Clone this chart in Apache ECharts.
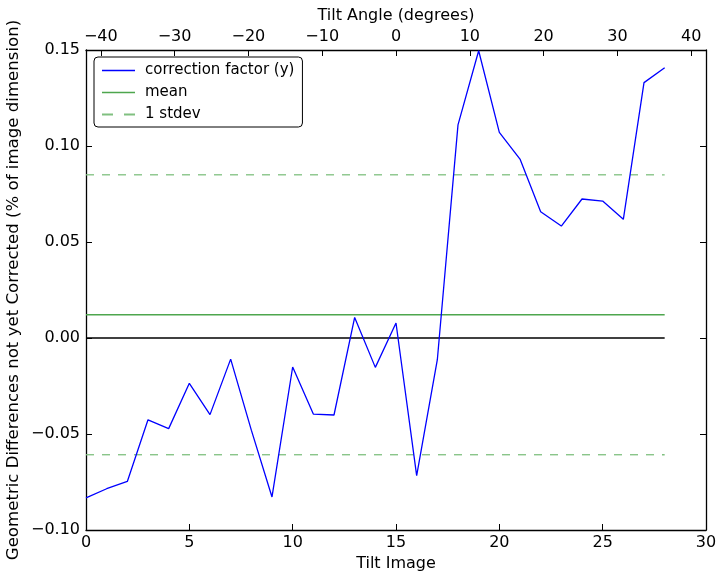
<!DOCTYPE html>
<html>
<head>
<meta charset="utf-8">
<script src="https://cdn.jsdelivr.net/npm/echarts@6/dist/echarts.min.js"></script>
<style>
html,body{margin:0;padding:0;background:#fff;}
#chart{width:725px;height:579px;}
</style>
</head>
<body>
<div id="chart"></div>
<script>
const tiltImages = [0,1,2,3,4,5,6,7,8,9,10,11,12,13,14,15,16,17,18,19,20,21,22,23,24,25,26,27,28];
const correction = [-0.0833,-0.0785,-0.0747,-0.0426,-0.0472,-0.0236,-0.0399,-0.0110,-0.0480,-0.0828,
  -0.0151,-0.0396,-0.0401,0.0107,-0.0153,0.0078,-0.0717,-0.0113,0.1110,0.1496,
  0.1071,0.0932,0.0658,0.0583,0.0724,0.0713,0.0618,0.1330,0.1408];
const meanValue = 0.0121;
const stdevValue = 0.0729;
const bottomTicks = [0,5,10,15,20,25,30];
const topTicks = [-40,-30,-20,-10,0,10,20,30,40];
const yTicks = [-0.10,-0.05,0.00,0.05,0.10,0.15];

const FONT = 'DejaVu Sans';
const FS = 16;
const LFS = 15;
const fmtY = v => v.toFixed(2).replace('-', '\u2212');
const fmtT = v => String(v).replace('-', '\u2212');

const xFirst = tiltImages[0], xLast = tiltImages[tiltImages.length-1];
const lineData = tiltImages.map((x,i)=>[x, correction[i]]);
const flat = v => [[xFirst, v],[xLast, v]];

const chart = echarts.init(document.getElementById('chart'), null, {renderer:'canvas'});
chart.setOption({
  animation:false,
  backgroundColor:'#fff',
  textStyle:{fontFamily:FONT},
  grid:{left:86, right:19, top:50, bottom:49, containLabel:false, outerBoundsMode:'none'},
  legend:{
    show:true,
    left:94, top:57,
    orient:'vertical',
    padding:[6,8,5,8],
    itemGap:7,
    itemWidth:33, itemHeight:15,
    backgroundColor:'#fff',
    borderColor:'#000', borderWidth:1, borderRadius:4,
    textStyle:{fontFamily:FONT, fontSize:LFS, color:'#000', padding:[0,0,0,5]},
    data:[
      {name:'correction factor (y)', icon:'path://M0,0L33,0L33,1.3L0,1.3Z', itemStyle:{color:'#0000ff'}},
      {name:'mean', icon:'path://M0,0L33,0L33,1.3L0,1.3Z', itemStyle:{color:'#4ea64e'}},
      {name:'1 stdev', icon:'path://M0,0L8,0L8,1.3L0,1.3Z M16,0L24,0L24,1.3L16,1.3Z', itemStyle:{color:'#80c080'}}
    ]
  },
  xAxis:[
    {type:'value', position:'bottom', min:0, max:30, interval:5,
     axisLine:{show:true, onZero:false, lineStyle:{color:'#000', width:1.3}},
     axisTick:{show:true, inside:true, length:6, lineStyle:{color:'#000'}},
     axisLabel:{show:true, fontFamily:FONT, fontSize:FS, color:'#000', margin:5, formatter:fmtT},
     splitLine:{show:false},
     name:'Tilt Image', nameLocation:'middle', nameGap:24,
     nameTextStyle:{fontFamily:FONT, fontSize:FS, color:'#000'}},
    {type:'value', position:'top', min:-42, max:42,
     axisLine:{show:true, onZero:false, lineStyle:{color:'#000', width:1.3}},
     axisTick:{show:true, inside:true, length:6, lineStyle:{color:'#000'}, customValues:topTicks},
     axisLabel:{show:true, fontFamily:FONT, fontSize:FS, color:'#000', margin:5, formatter:fmtT, customValues:topTicks},
     splitLine:{show:false},
     name:'Tilt Angle (degrees)', nameLocation:'middle', nameGap:26,
     nameTextStyle:{fontFamily:FONT, fontSize:FS, color:'#000'}},
  ],
  yAxis:[
    {type:'value', position:'left', min:-0.10, max:0.15, interval:0.05,
     axisLine:{show:true, onZero:false, lineStyle:{color:'#000', width:1.3}},
     axisTick:{show:true, inside:true, length:6, lineStyle:{color:'#000'}},
     axisLabel:{show:true, fontFamily:FONT, fontSize:FS, color:'#000', margin:6, formatter:fmtY},
     splitLine:{show:false},
     name:'Geometric Differences not yet Corrected (% of image dimension)',
     nameLocation:'middle', nameGap:64, nameMoveOverlap:false,
     nameTextStyle:{fontFamily:FONT, fontSize:16.6, color:'#000'}},
    {type:'value', position:'right', min:-0.10, max:0.15, interval:0.05,
     axisLine:{show:true, onZero:false, lineStyle:{color:'#000', width:1.3}},
     axisTick:{show:true, inside:true, length:6, lineStyle:{color:'#000'}},
     axisLabel:{show:false},
     splitLine:{show:false}}
  ],
  series:[
    {name:'zero', type:'line', xAxisIndex:0, yAxisIndex:0, data:flat(0), symbol:'none',
     lineStyle:{color:'#000', width:1.3}, silent:true, z:1},
    {name:'correction factor (y)', type:'line', xAxisIndex:0, yAxisIndex:0, data:lineData, symbol:'none',
     lineStyle:{color:'#0000ff', width:1.3}, itemStyle:{color:'#0000ff'}, z:3},
    {name:'mean', type:'line', xAxisIndex:0, yAxisIndex:0, data:flat(meanValue), symbol:'none',
     lineStyle:{color:'#4ea64e', width:1.3}, itemStyle:{color:'#4ea64e'}, z:2},
    {name:'1 stdev', type:'line', xAxisIndex:0, yAxisIndex:0, data:flat(meanValue+stdevValue), symbol:'none',
     lineStyle:{color:'#80c080', width:1.3, type:[8,8]}, itemStyle:{color:'#80c080'}, z:2},
    {name:'1 stdev', type:'line', xAxisIndex:0, yAxisIndex:0, data:flat(meanValue-stdevValue), symbol:'none',
     lineStyle:{color:'#80c080', width:1.3, type:[8,8]}, itemStyle:{color:'#80c080'}, z:2}
  ]
});
</script>
</body>
</html>
